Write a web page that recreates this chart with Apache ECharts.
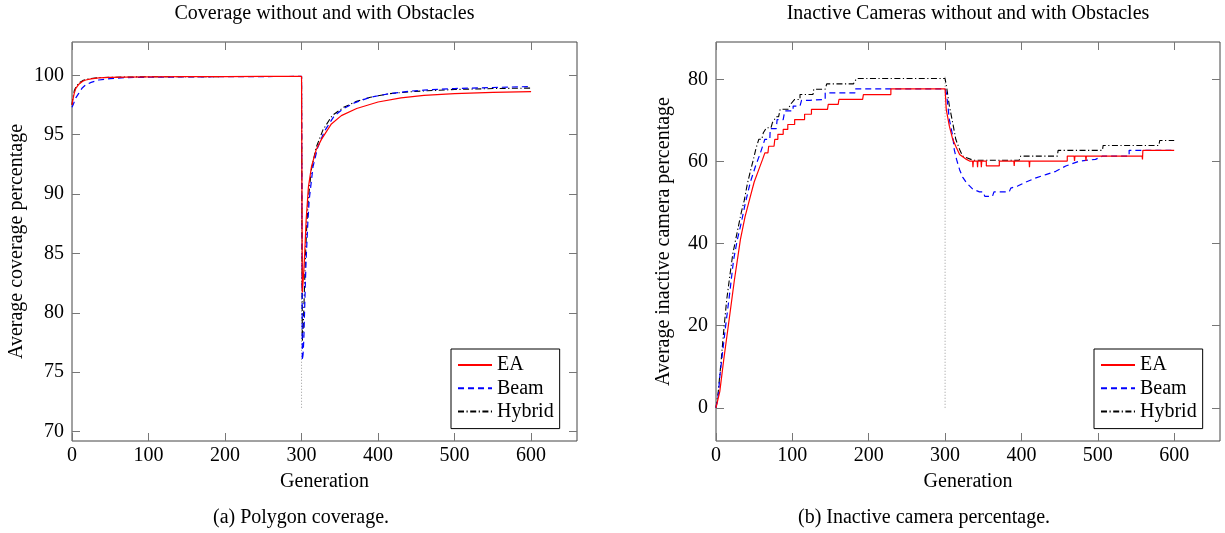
<!DOCTYPE html>
<html><head><meta charset="utf-8">
<script src="https://cdn.jsdelivr.net/npm/echarts@6/dist/echarts.min.js"></script>
<style>html,body{margin:0;padding:0;background:#fff}#c{width:1225px;height:533px}</style>
</head><body><div id="c"></div>
<script>
const FONT = '"Liberation Serif", "Times New Roman", serif';
const seriesNames = ['EA', 'Beam', 'Hybrid'];
const xTicks = [0, 100, 200, 300, 400, 500, 600];
const covTicks = [70, 75, 80, 85, 90, 95, 100];
const inaTicks = [0, 20, 40, 60, 80];

// ---- (a) coverage ----
const covEAGen = [0,1,3,5,9,14,18,25,35,50,70,100,150,200,250,300,301,302,303,304,306,309,313,319,326,339,352,372,400,430,460,500,550,600];
const covEAVal = [97.5,97.9,98.5,98.9,99.25,99.5,99.6,99.7,99.78,99.82,99.85,99.87,99.88,99.89,99.9,99.9,81.7,82.6,83.6,84.8,87.8,90.6,92.3,93.7,94.6,95.9,96.6,97.2,97.75,98.1,98.3,98.45,98.55,98.62];
const covBeamGen = [0,2,5,9,13,18,25,35,50,70,100,150,200,250,300,301,302,303,304,305,306,308,310,315,321,330,343,355,370,390,415,440,460,500,550,600];
const covBeamVal = [97.3,97.6,98.1,98.5,98.9,99.2,99.4,99.6,99.72,99.8,99.83,99.86,99.88,99.89,99.9,76.0,76.5,77.8,80.2,82.5,84.5,87.3,89.5,92.3,93.9,95.3,96.6,97.2,97.7,98.15,98.45,98.65,98.75,98.88,98.97,99.05];
const covHybGen = [0,1,3,5,9,14,18,25,35,50,70,100,150,200,300,301,302,303,304,305,307,309,313,319,328,340,355,372,390,415,440,460,500,550,600];
const covHybVal = [97.5,98.0,98.7,99.0,99.35,99.55,99.65,99.72,99.8,99.83,99.85,99.87,99.88,99.89,99.9,77.6,78.5,80.3,82.5,84.6,87.6,89.7,92.1,93.9,95.4,96.6,97.3,97.8,98.15,98.45,98.6,98.68,98.8,98.88,98.92];
const covMarkerGen = [300, 300];
const covMarkerVal = [72, 100];

// ---- (b) inactive cameras ----
const inaEAGen = [0,2,5,10,16,24,32,38,45,50,56,61,64,68,69,76,77,81,81,88,88,94,94,103,103,116,116,125,125,146,147,160,161,192,193,229,229,300,
  301,301.5,305.6,310,314,319,324,328,332,336,336.5,337,342,342.5,343,347,347.5,348,354,354,371,371,390,390.5,391,410,410.5,411,460,460,469,469.5,470,484,484.5,485,558,558.5,559,600];
const inaEAVal = [0,0.3,4,11.5,19.8,31,41,46.5,51.5,55,58,60.5,62.1,62.1,63.7,63.7,65.4,65.4,66.6,66.6,67.8,67.8,69.0,69.0,70.2,70.2,71.5,71.5,72.7,72.7,73.9,73.9,75.1,75.1,76.3,76.3,77.7,77.7,
  77.7,72.7,68.6,65.4,63.7,61.7,61.0,60.5,60.1,60.1,58.6,60.1,60.1,58.6,60.1,60.1,58.6,60.1,60.1,58.9,58.9,60.1,60.1,58.9,60.1,60.1,58.6,60.1,60.1,61.3,61.3,60.1,61.3,61.3,60.1,61.3,61.3,60.5,62.7,62.7];
const inaBeamGen = [0,3,5,8,12,18,23,28,33,38,45,52,58,64,70.5,71,79,80,88,90,101,101,110,112,123,125,143,143,182,182,300,
  302,305.6,310,312,315,319,323,328,336.6,345,350,352,362,364,384,386,395,406,419,432,445,458,476,497,506,541,541,600];
const inaBeamVal = [0,3,7.6,12.5,19,28,36,41,45,49.5,55,59,62,65.4,65.4,68.0,68.0,70.2,70.2,72.3,72.3,73.5,73.5,74.9,74.9,75.1,75.1,76.7,76.7,77.7,77.7,
  76.4,70.2,66.2,62.9,60.5,58,56.2,54.8,53.2,52.6,52.6,51.5,51.5,52.6,52.6,53.5,54,55,56,56.8,57.6,58.9,60.1,60.5,61.3,61.3,62.7,62.7];
const inaHybGen = [0,3,7,10,14,18,22,28,33,37,41,45,49,52,56,60,62,66,72,74,79,82,84,95,97,103,110,110,127,128,143,145,180,184,300,
  301,302,305.6,310,314,319,323,330,336.6,397,399,447,448,506,507,580,581,600];
const inaHybVal = [0,4,12,18.5,26.3,32,37.5,43,47.5,50.5,54.5,57.6,60.5,62.9,65.4,65.4,67,68.2,68.2,69.5,70.9,70.9,72.7,72.7,73.8,75.1,75.1,76.3,76.3,77.6,77.6,78.9,78.9,80.2,80.2,
  80.2,78.1,73.5,69.4,65.4,62.9,61.3,60.8,60.3,60.3,61.3,61.3,62.7,62.7,63.9,63.9,65.1,65.1];
const inaMarkerGen = [300, 300];
const inaMarkerVal = [0, 81];

function zip(g, v) { return g.map((x, i) => [x, v[i]]); }

const styles = {
  EA: { color: '#ff0000', width: 1.2, type: 'solid' },
  Beam: { color: '#0000ff', width: 1.2, type: [6, 4] },
  Hybrid: { color: '#000000', width: 1.1, type: [6, 2.5, 1.2, 2.5] }
};

function mkLine(name, g, v, ax) {
  const s = styles[name];
  return {
    type: 'line', name, xAxisIndex: ax, yAxisIndex: ax,
    data: zip(g, v), symbol: 'none', showSymbol: false, animation: false,
    lineStyle: { color: s.color, width: s.width, type: s.type },
    itemStyle: { color: s.color },
    emphasis: { disabled: true }, z: 3
  };
}
function mkMarker(g, v, ax) {
  return {
    type: 'line', name: 'marker', xAxisIndex: ax, yAxisIndex: ax, data: zip(g, v),
    symbol: 'none', silent: true, animation: false,
    lineStyle: { color: '#999', width: 1, type: [1, 2] }, z: 2
  };
}

const FS = 20;
const labelStyle = { fontFamily: FONT, fontSize: FS, color: '#000' };
const nameStyle = { fontFamily: FONT, fontSize: FS, color: '#000' };
const tickStyle = { color: '#777', width: 1 };

function xAxisPair(grid, name) {
  return [
    { type: 'value', gridIndex: grid, position: 'bottom', min: 0, max: 660,
      name, nameLocation: 'middle', nameGap: 31, nameTextStyle: nameStyle,
      axisLine: { show: false, onZero: false }, splitLine: { show: false },
      axisTick: { inside: true, length: 8, customValues: xTicks, lineStyle: tickStyle },
      axisLabel: Object.assign({ margin: 5, customValues: xTicks }, labelStyle) },
    { type: 'value', gridIndex: grid, position: 'top', min: 0, max: 660,
      axisLine: { show: false, onZero: false }, splitLine: { show: false },
      axisTick: { inside: true, length: 8, customValues: xTicks, lineStyle: tickStyle },
      axisLabel: { show: false } }
  ];
}
function yAxisPair(grid, min, max, ticks, name, gap) {
  return [
    { type: 'value', gridIndex: grid, position: 'left', min, max,
      name, nameLocation: 'middle', nameGap: gap, nameTextStyle: nameStyle,
      axisLine: { show: false, onZero: false }, splitLine: { show: false },
      axisTick: { inside: true, length: 8, customValues: ticks, lineStyle: tickStyle },
      axisLabel: Object.assign({ margin: 8, customValues: ticks }, labelStyle) },
    { type: 'value', gridIndex: grid, position: 'right', min, max,
      axisLine: { show: false, onZero: false }, splitLine: { show: false },
      axisTick: { inside: true, length: 8, customValues: ticks, lineStyle: tickStyle },
      axisLabel: { show: false } }
  ];
}

function mkLegend(left) {
  return {
    data: seriesNames, orient: 'vertical', left, top: 349,
    padding: [6, 6, 7, 6], itemGap: 3.3, itemWidth: 34, itemHeight: 14,
    borderColor: '#000', borderWidth: 1, backgroundColor: '#fff', borderRadius: 0,
    selectedMode: false,
    itemStyle: { opacity: 0 },
    textStyle: { fontFamily: FONT, fontSize: FS, color: '#000', lineHeight: 20 }
  };
}

const titleStyle = { fontFamily: FONT, fontSize: FS, fontWeight: 'normal', color: '#000' };

const option = {
  animation: false,
  backgroundColor: '#fff',
  title: [
    { text: 'Coverage without and with Obstacles', left: 324.5, top: 4, textAlign: 'center', padding: 0, textStyle: titleStyle },
    { text: 'Inactive Cameras without and with Obstacles', left: 968, top: 4, textAlign: 'center', padding: 0, textStyle: titleStyle },
    { text: '(a) Polygon coverage.', left: 301, top: 508, textAlign: 'center', padding: 0, textStyle: titleStyle },
    { text: '(b) Inactive camera percentage.', left: 924, top: 508, textAlign: 'center', padding: 0, textStyle: titleStyle }
  ],
  grid: [
    { left: 72, top: 42, width: 505, height: 399, show: true, borderColor: '#444', borderWidth: 1, backgroundColor: 'transparent' },
    { left: 716, top: 42, width: 504, height: 399, show: true, borderColor: '#444', borderWidth: 1, backgroundColor: 'transparent' }
  ],
  xAxis: [].concat(xAxisPair(0, 'Generation'), xAxisPair(1, 'Generation')),
  yAxis: [].concat(
    yAxisPair(0, 69.2, 102.8, covTicks, 'Average coverage percentage', 45),
    yAxisPair(1, -8.1, 89.1, inaTicks, 'Average inactive camera percentage', 42)
  ),
  legend: [mkLegend(451), mkLegend(1094)],
  series: [
    mkMarker(covMarkerGen, covMarkerVal, 0),
    mkLine('Hybrid', covHybGen, covHybVal, 0),
    mkLine('Beam', covBeamGen, covBeamVal, 0),
    mkLine('EA', covEAGen, covEAVal, 0),
    mkMarker(inaMarkerGen, inaMarkerVal, 2),
    mkLine('Hybrid', inaHybGen, inaHybVal, 2),
    mkLine('Beam', inaBeamGen, inaBeamVal, 2),
    mkLine('EA', inaEAGen, inaEAVal, 2)
  ]
};
const chart = echarts.init(document.getElementById('c'), null, { renderer: 'canvas' });
chart.setOption(option);
</script>
</body></html>
